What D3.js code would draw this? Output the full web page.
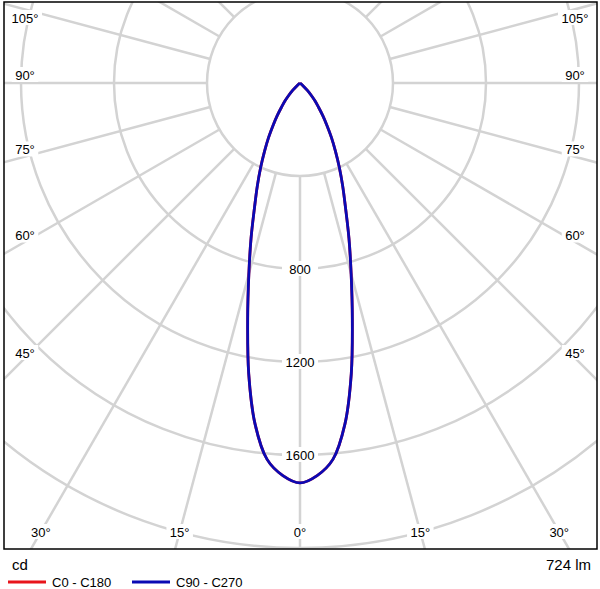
<!DOCTYPE html>
<html><head><meta charset="utf-8">
<script src="https://cdn.jsdelivr.net/npm/d3@7"></script>
<style>body{margin:0;background:#fff}text{font-family:"Liberation Sans",Arial,sans-serif}</style>
</head><body>
<script>
// intensity (cd) vs angle from nadir (deg), symmetric
var angles = [0, 2.5, 5, 7.5, 10, 12.5, 15, 17.5, 20, 22.5, 25, 27.5, 30, 32.5, 35, 37.5, 40, 42.5, 45, 47.5, 50];
var c0c180 = [1720, 1690, 1625, 1480, 1270, 1040, 850, 700, 573, 480, 400, 330, 270, 215, 170, 130, 100, 70, 45, 20, 0];
var c90c270 = [1720, 1690, 1625, 1480, 1270, 1040, 850, 700, 573, 480, 400, 330, 270, 215, 170, 130, 100, 70, 45, 20, 0];
var ringValues = [400, 800, 1200, 1600, 2000, 2400, 2800];
var ringLabels = [800, 1200, 1600];
var angleLabels = [0, 15, 30, 45, 60, 75, 90, 105];
var seriesNames = ["C0 - C180", "C90 - C270"];
var seriesColors = ["#e8141b", "#0a0ab4"];

var W = 600, H = 589;
var fx0 = 4, fy0 = 2, fx1 = 597, fy1 = 549;
var cx = 300, cy = 83;
var r = d3.scaleLinear().domain([0, 400]).range([0, 93]);

var svg = d3.select("body").append("svg").attr("width", W).attr("height", H);
svg.append("clipPath").attr("id", "clip").append("rect")
  .attr("x", fx0).attr("y", fy0).attr("width", fx1 - fx0).attr("height", fy1 - fy0);
var g = svg.append("g").attr("clip-path", "url(#clip)");
var p = g.append("g").attr("transform", "translate(" + cx + "," + cy + ")");

p.selectAll("circle.ring").data(ringValues).enter().append("circle")
  .attr("r", function(d) { return r(d); })
  .attr("fill", "none").attr("stroke", "#d3d3d3").attr("stroke-width", 2.5);

var spokes = d3.range(-180, 181, 15);
p.selectAll("line.spoke").data(spokes).enter().append("line")
  .attr("x1", function(d) { return r(400) * Math.sin(d * Math.PI / 180); })
  .attr("y1", function(d) { return r(400) * Math.cos(d * Math.PI / 180); })
  .attr("x2", function(d) { return 900 * Math.sin(d * Math.PI / 180); })
  .attr("y2", function(d) { return 900 * Math.cos(d * Math.PI / 180); })
  .attr("stroke", "#d3d3d3").attr("stroke-width", 2.5);

// intensity labels on the nadir axis
p.selectAll("g.rl").data(ringLabels).enter().append("g")
  .attr("transform", function(d) { return "translate(0," + r(d) + ")"; })
  .each(function(d) {
    var s = d3.select(this);
    s.append("rect").attr("x", -18).attr("y", -8).attr("width", 36).attr("height", 15).attr("fill", "#fff");
    s.append("text").attr("text-anchor", "middle").attr("dy", "0.35em").attr("font-size", 13).text(d);
  });

// curves
function pts(vals, sign) {
  return angles.map(function(a, i) { return [sign * a * Math.PI / 180, vals[i]]; });
}
var line = d3.lineRadial()
  .angle(function(d) { return Math.PI - d[0]; })
  .radius(function(d) { return r(d[1]); })
  .curve(d3.curveCatmullRom);
[c0c180, c90c270].forEach(function(vals, k) {
  var data = pts(vals, -1).reverse().concat(pts(vals, 1).slice(1));
  p.append("path").attr("d", line(data)).attr("fill", "none")
    .attr("stroke", seriesColors[k]).attr("stroke-width", 2.8);
});

// angle labels on the frame
function labelPos(a) {
  var t = a * Math.PI / 180, lx = 22, ly = 532;
  var dx = Math.sin(t), dy = Math.cos(t);
  var tx = (cx - lx) / dx, ty = (ly - cy) / (dy > 0 ? dy : 1e-9);
  if (a === 0 || ty < tx) return [cx - ty * dx, ly];
  return [lx + 3, Math.max(18, cy + tx * dy - 8 * Math.sign(dy))];
}
angleLabels.forEach(function(a) {
  var q = labelPos(a);
  [q, [W - q[0], q[1]]].forEach(function(pp, side) {
    if (a === 0 && side === 1) return;
    var lbl = a + "°";
    var wdt = lbl.length * 7.5 + 4;
    svg.append("rect").attr("x", pp[0] - wdt / 2).attr("y", pp[1] - 8)
      .attr("width", wdt).attr("height", 15).attr("fill", "#fff");
    svg.append("text").attr("x", pp[0]).attr("y", pp[1]).attr("dy", "0.35em")
      .attr("text-anchor", "middle").attr("font-size", 13).text(lbl);
  });
});

svg.append("rect").attr("x", fx0).attr("y", fy0).attr("width", fx1 - fx0).attr("height", fy1 - fy0)
  .attr("fill", "none").attr("stroke", "#000").attr("stroke-width", 1.5);

svg.append("text").attr("x", 12).attr("y", 570).attr("font-size", 15).text("cd");
svg.append("text").attr("x", 591).attr("y", 570).attr("text-anchor", "end").attr("font-size", 15).text("724 lm");

var lg = svg.selectAll("g.lg").data(seriesNames).enter().append("g")
  .attr("transform", function(d, i) { return "translate(" + (8 + i * 124) + ",582)"; });
lg.append("line").attr("x1", 0).attr("x2", 38).attr("stroke-width", 2.8)
  .attr("stroke", function(d, i) { return seriesColors[i]; });
lg.append("text").attr("x", 44).attr("dy", "0.35em").attr("font-size", 13).text(function(d) { return d; });
</script>
</body></html>
